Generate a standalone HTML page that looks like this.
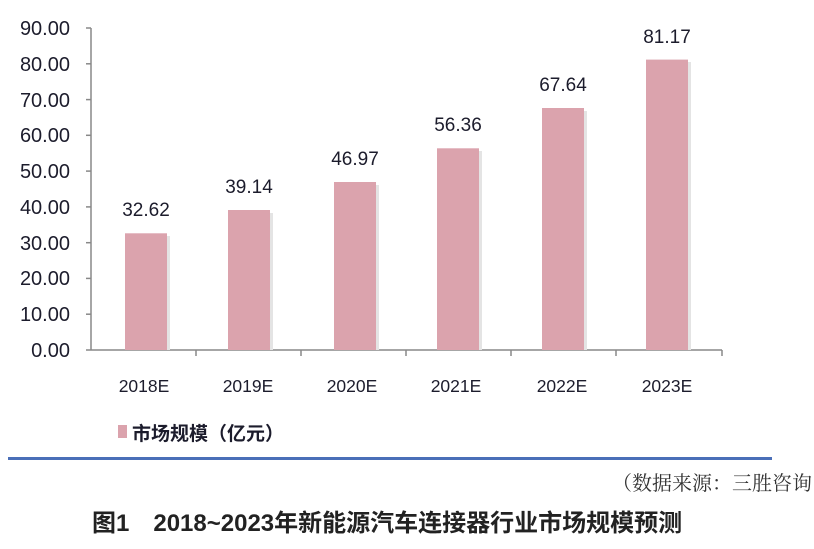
<!DOCTYPE html>
<html><head><meta charset="utf-8"><style>
body{margin:0;background:#fff;width:814px;height:549px;overflow:hidden;position:relative;font-family:"Liberation Sans","Noto Sans CJK SC",sans-serif}
</style></head><body>
<svg width="814" height="549" style="position:absolute;left:0;top:0">
<g font-family="Liberation Sans, Noto Sans CJK SC, sans-serif" font-size="19" fill="#1c1c2c">
<line x1="91" y1="28" x2="91" y2="350" stroke="#888" stroke-width="1.5"/>
<line x1="91" y1="350" x2="722" y2="350" stroke="#888" stroke-width="1.5"/>
<g stroke="#888" stroke-width="1.5">
<line x1="86" y1="28" x2="91" y2="28"/><line x1="86" y1="63.8" x2="91" y2="63.8"/><line x1="86" y1="99.6" x2="91" y2="99.6"/><line x1="86" y1="135.3" x2="91" y2="135.3"/><line x1="86" y1="171.1" x2="91" y2="171.1"/><line x1="86" y1="206.9" x2="91" y2="206.9"/><line x1="86" y1="242.7" x2="91" y2="242.7"/><line x1="86" y1="278.4" x2="91" y2="278.4"/><line x1="86" y1="314.2" x2="91" y2="314.2"/><line x1="86" y1="350" x2="91" y2="350"/>
<line x1="196" y1="350" x2="196" y2="356"/><line x1="301" y1="350" x2="301" y2="356"/><line x1="406" y1="350" x2="406" y2="356"/><line x1="511" y1="350" x2="511" y2="356"/><line x1="616" y1="350" x2="616" y2="356"/><line x1="722" y1="350" x2="722" y2="356"/>
</g>
<g text-anchor="end" font-size="20">
<text x="70" y="35">90.00</text><text x="70" y="71">80.00</text><text x="70" y="107">70.00</text><text x="70" y="142">60.00</text><text x="70" y="178">50.00</text><text x="70" y="214">40.00</text><text x="70" y="250">30.00</text><text x="70" y="285">20.00</text><text x="70" y="321">10.00</text><text x="70" y="357">0.00</text>
</g>
<g fill="#dba3ad">
<rect x="125" y="233.3" width="42" height="116.7"/>
<rect x="228" y="210" width="42" height="140"/>
<rect x="334" y="182" width="42" height="168"/>
<rect x="437" y="148.3" width="42" height="201.7"/>
<rect x="542" y="108" width="42" height="242"/>
<rect x="646" y="59.6" width="42" height="290.4"/>
</g>
<g fill="#e4e4e4">
<rect x="167" y="236" width="3" height="114"/><rect x="270" y="213" width="3" height="137"/><rect x="376" y="185" width="3" height="165"/><rect x="479" y="151" width="3" height="199"/><rect x="584" y="111" width="3" height="239"/><rect x="688" y="62" width="3" height="288"/>
</g>
<g text-anchor="middle">
<text x="146" y="216">32.62</text><text x="249" y="193">39.14</text><text x="355" y="165">46.97</text><text x="458" y="131">56.36</text><text x="563" y="91">67.64</text><text x="667" y="43">81.17</text>
<g font-size="17.5">
<text x="144" y="392">2018E</text><text x="248" y="392">2019E</text><text x="352" y="392">2020E</text><text x="456" y="392">2021E</text><text x="562" y="392">2022E</text><text x="667" y="392">2023E</text>
</g>
</g>
<rect x="118" y="425" width="9" height="13" fill="#dba3ad"/>
<text x="132" y="440" font-size="19" font-weight="bold">市场规模（亿元）</text>
<rect x="8" y="457" width="764" height="3" fill="#4a6fb8"/>
<text x="812" y="490" font-size="20" text-anchor="end" font-family="Noto Serif CJK SC, serif" fill="#333">（数据来源：三胜咨询</text>
<text x="92" y="531" font-size="24" font-weight="bold" fill="#222">图1　2018~2023年新能源汽车连接器行业市场规模预测</text>
</g>
</svg>
</body></html>
